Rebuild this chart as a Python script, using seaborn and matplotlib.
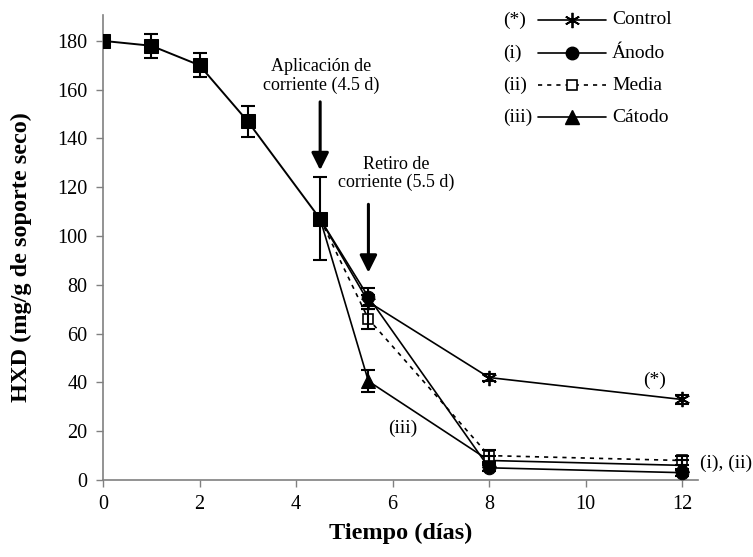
import matplotlib
matplotlib.use("Agg")
import matplotlib.pyplot as plt
from matplotlib.lines import Line2D
import numpy as np
import pandas as pd
import seaborn as sns

# Shared phase (before current is applied): days 0 - 4.5
base_days = [0, 1, 2, 3, 4.5]
base_mean = [180, 178, 170, 147, 107]
base_err = [1, 5, 5, 6.5, 17]

# Treatment phase: days after 4.5
treat_days = [5.5, 8, 12]
control_mean = [73, 42, 33]
control_err = [3, 1.5, 2]
anodo_mean = [75, 5, 3]
anodo_err = [3.5, 1.5, 1.5]
media_mean = [66, 10, 8]
media_err = [4, 2.5, 2]
catodo_mean = [40.5, 8, 6]
catodo_err = [4.6, 2, 2]

series_names = ["Control", "Ánodo", "Media", "Cátodo"]
series_prefix = ["(*)", "(i)", "(ii)", "(iii)"]

x_ticks = [0, 2, 4, 6, 8, 10, 12]
y_ticks = [0, 20, 40, 60, 80, 100, 120, 140, 160, 180]

sns.set_style("ticks")
plt.rcParams["font.family"] = ["Liberation Serif", "DejaVu Serif"]
plt.rcParams["text.color"] = "black"
plt.rcParams["axes.labelcolor"] = "black"
plt.rcParams["xtick.color"] = "black"
plt.rcParams["ytick.color"] = "black"

fig = plt.figure(figsize=(7.53, 5.57), dpi=100)
ax = fig.add_axes([103 / 753, 1 - 480 / 557, 595 / 753, 465 / 557])

styles = {
    "Control": dict(marker=(6, 2, 0), markersize=11, markeredgewidth=1.3,
                    color="black", linestyle="-", mfc="black", mec="black"),
    "Ánodo": dict(marker="o", markersize=9, color="black", linestyle="-",
                  mfc="black", mec="black"),
    "Media": dict(marker="s", markersize=7, color="black", linestyle=(0, (2.5, 3)),
                  mfc="white", mec="black", markeredgewidth=1.2),
    "Cátodo": dict(marker="^", markersize=10, color="black", linestyle="-",
                   mfc="black", mec="black"),
}

means = {"Control": control_mean, "Ánodo": anodo_mean,
         "Media": media_mean, "Cátodo": catodo_mean}
errs = {"Control": control_err, "Ánodo": anodo_err,
        "Media": media_err, "Cátodo": catodo_err}

# Treatment curves start from the last shared point at 4.5 d
for name in ["Cátodo", "Media", "Ánodo", "Control"]:
    df = pd.DataFrame({"dia": [base_days[-1]] + treat_days,
                       "hxd": [base_mean[-1]] + means[name]})
    st = dict(styles[name])
    sns.lineplot(data=df, x="dia", y="hxd", ax=ax, estimator=None, sort=False,
                 linewidth=1.2, markevery=[1, 2, 3], zorder=3, **st)
    ax.errorbar(treat_days, means[name], yerr=errs[name], fmt="none",
                ecolor="black", elinewidth=1.5, capsize=5, capthick=1.5, zorder=4)

# Shared curve with filled squares
df_base = pd.DataFrame({"dia": base_days, "hxd": base_mean})
sns.lineplot(data=df_base, x="dia", y="hxd", ax=ax, estimator=None, sort=False,
             color="black", linewidth=1.4, marker="s", markersize=10,
             mfc="black", mec="black", zorder=5)
ax.errorbar(base_days, base_mean, yerr=base_err, fmt="none", ecolor="black",
            elinewidth=1.5, capsize=5, capthick=1.5, zorder=4)

ax.set_xlim(0, 12.33)
ax.set_ylim(0, 190.6)
ax.set_xticks(x_ticks)
ax.set_yticks(y_ticks)
ax.set_xticklabels([str(t) for t in x_ticks])
ax.set_yticklabels([str(t) for t in y_ticks])
ax.tick_params(axis="both", direction="out", length=5, width=1, color="#808080",
               labelsize=14.5, labelcolor="black", pad=6)
for side in ["top", "right"]:
    ax.spines[side].set_visible(False)
for side in ["left", "bottom"]:
    ax.spines[side].set_color("#808080")
    ax.spines[side].set_linewidth(1.2)

ax.set_xlabel("Tiempo (días)", fontsize=17.5, fontweight="bold", labelpad=6)
ax.set_ylabel("HXD (mg/g de soporte seco)", fontsize=17.5, fontweight="bold")
ax.yaxis.set_label_coords(-0.12, 0.48)

# Current application / removal arrows and notes
arrow = dict(arrowstyle="-|>", lw=2.2, color="black", mutation_scale=26,
             shrinkA=0, shrinkB=0)
ax.annotate("", xy=(4.5, 127), xytext=(4.5, 155), arrowprops=arrow)
ax.annotate("", xy=(5.5, 85), xytext=(5.5, 113), arrowprops=arrow)
ax.text(4.52, 165.6, "Aplicación de\ncorriente (4.5 d)", ha="center", va="center",
        fontsize=13, linespacing=1.1)
ax.text(6.08, 125.7, "Retiro de\ncorriente (5.5 d)", ha="center", va="center",
        fontsize=13, linespacing=1.1)

ax.text(11.44, 41, "(*)", ha="center", va="center", fontsize=14)
ax.text(12.37, 6.8, "(i), (ii)", ha="left", va="center", fontsize=14,
        clip_on=False)
ax.text(6.22, 21, "(iii)", ha="center", va="center", fontsize=14)

# Key with series tags
rows_px = [20, 53, 85, 117]
for name, prefix, py in zip(series_names, series_prefix, rows_px):
    fy = (480 - py) / 465
    st = dict(styles[name])
    line = Line2D([(538 - 103) / 595, (606 - 103) / 595], [fy, fy],
                  transform=ax.transAxes, linewidth=1.2, clip_on=False,
                  color=st["color"], linestyle=st["linestyle"])
    ax.add_line(line)
    mk = Line2D([(572 - 103) / 595], [fy], transform=ax.transAxes, linestyle="none",
                clip_on=False, marker=st["marker"], markersize=st["markersize"],
                mfc=st["mfc"], mec=st["mec"],
                markeredgewidth=st.get("markeredgewidth", 1.0))
    ax.add_line(mk)
    ax.text((503 - 103) / 595, fy, prefix, transform=ax.transAxes, ha="left",
            va="center", fontsize=14)
    ax.text((612 - 103) / 595, fy, name, transform=ax.transAxes, ha="left",
            va="center", fontsize=14)

fig.savefig("out.png", dpi=100)
